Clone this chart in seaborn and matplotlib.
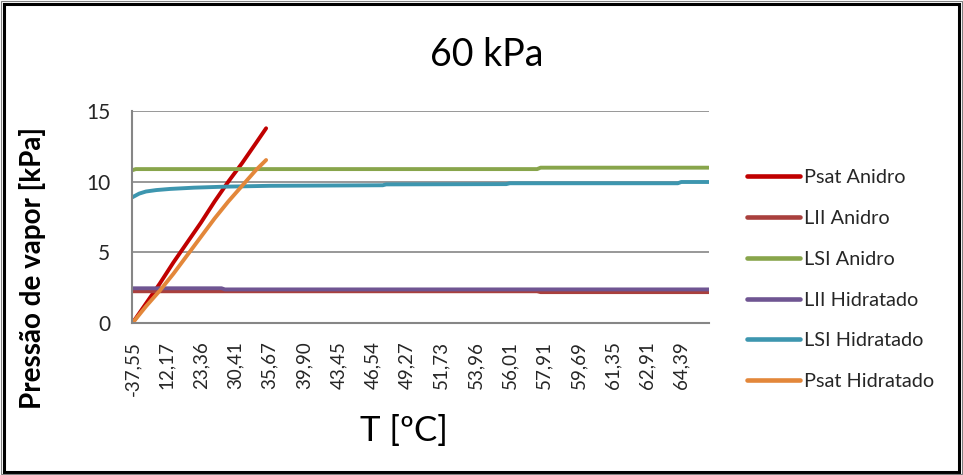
import numpy as np
import pandas as pd
import matplotlib
matplotlib.use("Agg")
import matplotlib.pyplot as plt
import seaborn as sns
from matplotlib import font_manager
from matplotlib.patches import Rectangle
from matplotlib.lines import Line2D

# ---------------- data ----------------
tick_labels = ["-37,55", "12,17", "23,36", "30,41", "35,67", "39,90", "43,45", "46,54",
               "49,27", "51,73", "53,96", "56,01", "57,91", "59,69", "61,35", "62,91", "64,39"]
n_categories = 169          # category count (labels shown every 10th)

psat_anidro_idx = [0, 4, 8, 12, 16, 20, 24, 28, 32, 36, 39]
psat_anidro_val = [0.0, 1.4, 2.8, 4.3, 5.7, 7.1, 8.6, 10.0, 11.3, 12.7, 13.76]

lii_anidro_idx = [0, 118, 119, 168]
lii_anidro_val = [2.26, 2.26, 2.20, 2.20]

lsi_anidro_idx = [0, 1, 118, 119, 168]
lsi_anidro_val = [10.80, 10.88, 10.88, 10.98, 10.98]

lii_hidr_idx = [0, 26, 27, 168]
lii_hidr_val = [2.47, 2.47, 2.39, 2.39]

lsi_hidr_idx = [0, 2, 4, 7, 11, 18, 27, 40, 73, 74, 109, 110, 159, 160, 168]
lsi_hidr_val = [8.89, 9.15, 9.30, 9.40, 9.48, 9.57, 9.64, 9.70, 9.74, 9.80, 9.82, 9.88, 9.88, 9.97, 9.97]

psat_hidr_idx = [0, 4, 8, 12, 16, 20, 24, 28, 32, 36, 39]
psat_hidr_val = [0.0, 1.2, 2.3, 3.5, 4.8, 6.1, 7.4, 8.6, 9.7, 10.8, 11.52]

series_names = ["Psat Anidro", "LII Anidro", "LSI Anidro", "LII Hidratado", "LSI Hidratado", "Psat Hidratado"]
series_colors = ["#C00000", "#A9403D", "#88A54B", "#6F5592", "#3D96AF", "#E3873A"]

# ---------------- fonts ----------------
avail = {f.name for f in font_manager.fontManager.ttflist}
font = next((f for f in ["Liberation Sans Narrow", "Lato", "Open Sans", "DejaVu Sans"] if f in avail), "DejaVu Sans")

sns.set_theme(style="white")
plt.rcParams["font.family"] = [font, "DejaVu Sans"]

# ---------------- data frame ----------------
frames = []
for name, ix, vals in zip(series_names,
                          [psat_anidro_idx, lii_anidro_idx, lsi_anidro_idx, lii_hidr_idx, lsi_hidr_idx, psat_hidr_idx],
                          [psat_anidro_val, lii_anidro_val, lsi_anidro_val, lii_hidr_val, lsi_hidr_val, psat_hidr_val]):
    frames.append(pd.DataFrame({"idx": ix, "val": vals, "serie": name}))
df = pd.concat(frames, ignore_index=True)

W, H = 963, 475
fig = plt.figure(figsize=(W / 100, H / 100), dpi=100)
ax = fig.add_axes([132.3 / W, 1 - 323.3 / H, (708.7 - 132.3) / W, (323.3 - 110.7) / H])

sns.lineplot(data=df, x="idx", y="val", hue="serie", hue_order=series_names,
             palette=dict(zip(series_names, series_colors)), estimator=None, sort=False,
             linewidth=2.8, ax=ax, legend=False)

ax.set_xlim(0, n_categories - 1)
ax.set_ylim(0, 15)
ax.set_yticks([0, 5, 10, 15])
ax.set_yticklabels(["0", "5", "10", "15"], fontsize=15)
ax.set_xticks(np.arange(0, 10 * len(tick_labels), 10))
ax.set_xticklabels(tick_labels, rotation=90, fontsize=13.5)
ax.tick_params(axis="y", length=0, pad=16)
ax.tick_params(axis="x", length=0, pad=13)
ax.grid(axis="y", color="#868686", linewidth=1.2)
ax.grid(axis="x", visible=False)
ax.set_axisbelow(True)
for s in ["top", "right"]:
    ax.spines[s].set_visible(False)
for s in ["left", "bottom"]:
    ax.spines[s].set_color("#868686")
    ax.spines[s].set_linewidth(1.5)
ax.set_xlabel("")
ax.set_ylabel("")

fig.text(487 / W, 1 - 55 / H, "60 kPa", ha="center", va="center", fontsize=27, color="black")
fig.text(33 / W, 1 - 268 / H, "Pressão de vapor [kPa]", ha="center", va="center",
         rotation=90, fontsize=20, fontweight="bold", color="black")
fig.text(404 / W, 1 - 431 / H, "T [ºC]", ha="center", va="center", fontsize=25, color="black")

handles = [Line2D([], [], color=c, linewidth=3.3, solid_capstyle="round") for c in series_colors]
fig.legend(handles, series_names, loc="upper left", bbox_to_anchor=(747 / W, 1 - 169 / H),
           frameon=False, fontsize=14.3, handlelength=2.65, handletextpad=0.2, labelspacing=1.2,
           borderaxespad=0, borderpad=0)

# figure border
fig.patches.append(Rectangle((4 / W, 3 / H), 1 - 8 / W, 1 - 7 / H, transform=fig.transFigure,
                             fill=False, edgecolor="black", linewidth=2.2))
fig.patches.append(Rectangle((1 / W, 1 / H), 1 - 2 / W, 1 - 2 / H, transform=fig.transFigure,
                             fill=False, edgecolor="#808080", linewidth=0.8))

fig.savefig("out.png", dpi=100)
